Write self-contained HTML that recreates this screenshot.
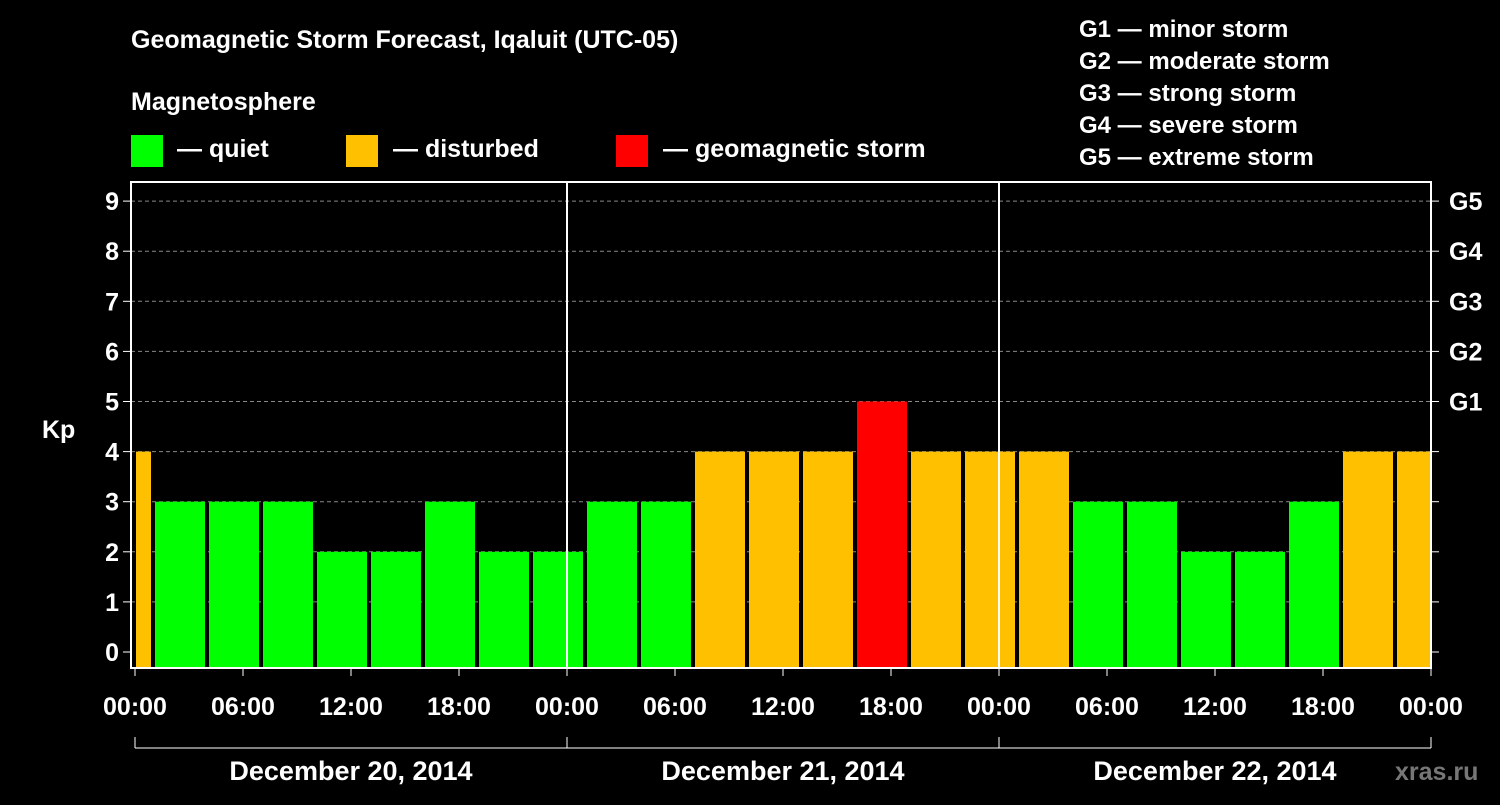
<!DOCTYPE html>
<html><head><meta charset="utf-8"><style>
body{margin:0;background:#000;width:1500px;height:800px;overflow:hidden;font-family:"Liberation Sans",sans-serif}
svg text{font-family:"Liberation Sans",sans-serif;font-weight:bold;fill:#fff}
</style></head><body>
<svg id="chart" width="1500" height="800" xmlns="http://www.w3.org/2000/svg">
<text x="131" y="48" font-size="25">Geomagnetic Storm Forecast, Iqaluit (UTC-05)</text>
<text x="131" y="110" font-size="25">Magnetosphere</text>
<rect x="131" y="135" width="32" height="32" fill="#00ff00"/>
<text x="177" y="157" font-size="25">— quiet</text>
<rect x="346" y="135" width="32" height="32" fill="#ffc000"/>
<text x="393" y="157" font-size="25">— disturbed</text>
<rect x="616" y="135" width="32" height="32" fill="#ff0000"/>
<text x="663" y="157" font-size="25">— geomagnetic storm</text>
<g font-size="24">
<text x="1079" y="37">G1 — minor storm</text>
<text x="1079" y="69">G2 — moderate storm</text>
<text x="1079" y="101">G3 — strong storm</text>
<text x="1079" y="133">G4 — severe storm</text>
<text x="1079" y="165">G5 — extreme storm</text>
</g>
<text x="42" y="438" font-size="25">Kp</text>
<text x="1395" y="780" font-size="25" fill="#666" style="fill:#777">xras.ru</text>
<g id="grid"></g><g id="bars"></g><g id="axes"></g>
</svg>
<script>
const kpValues=[4,3,3,3,2,2,3,2,2,3,3,4,4,4,5,4,4,4,3,3,2,2,3,4,4];
const barStartHours=[-2,1,4,7,10,13,16,19,22,25,28,31,34,37,40,43,46,49,52,55,58,61,64,67,70];
const yTicks=[0,1,2,3,4,5,6,7,8,9];
const gLabels=["G1","G2","G3","G4","G5"];
const xTickLabels=["00:00","06:00","12:00","18:00","00:00","06:00","12:00","18:00","00:00","06:00","12:00","18:00","00:00"];
const dayLabels=["December 20, 2014","December 21, 2014","December 22, 2014"];
const NS="http://www.w3.org/2000/svg";
const X0=135,PX_H=18,Y0=652,PX_K=50.1,TOP=182,BOT=668,LEFT=131,RIGHT=1431;
const xs=h=>X0+h*PX_H, ys=k=>Y0-k*PX_K;
function mk(t,a,p){const e=document.createElementNS(NS,t);for(const k in a)e.setAttribute(k,a[k]);p.appendChild(e);return e;}
const grid=document.getElementById('grid'),bars=document.getElementById('bars'),axes=document.getElementById('axes');
yTicks.forEach(k=>{if(k>0){const l=mk('line',{x1:LEFT,x2:RIGHT,y1:ys(k),y2:ys(k),stroke:'#888','stroke-dasharray':'4,3','stroke-width':1},grid);

}});
kpValues.forEach((v,i)=>{let x1=xs(barStartHours[i])+2,x2=xs(barStartHours[i]+3)-2;x1=Math.max(x1,X0+1);x2=Math.min(x2,RIGHT);
const c=v>=5?'#ff0000':v>=4?'#ffc000':'#00ff00';
const r=mk('rect',{x:x1,y:ys(v),width:x2-x1,height:BOT-ys(v),fill:c},bars);

});
const f=mk('rect',{x:LEFT,y:TOP,width:RIGHT-LEFT,height:BOT-TOP,fill:'none',stroke:'#fff','stroke-width':2},axes);


[24,48].forEach(h=>{const l=mk('line',{x1:xs(h),x2:xs(h),y1:TOP,y2:BOT,stroke:'#fff','stroke-width':2},axes);

});
yTicks.forEach(k=>{mk('line',{x1:LEFT-8,x2:LEFT,y1:ys(k),y2:ys(k),stroke:'#fff','stroke-width':1},axes);
mk('line',{x1:RIGHT,x2:RIGHT+8,y1:ys(k),y2:ys(k),stroke:'#fff','stroke-width':1},axes);
const t=mk('text',{x:LEFT-12,y:ys(k)+9,'font-size':25,'text-anchor':'end'},axes);t.textContent=k;

});
gLabels.forEach((g,i)=>{const t=mk('text',{x:RIGHT+18,y:ys(5+i)+9,'font-size':25},axes);t.textContent=g;

});
xTickLabels.forEach((s,i)=>{const x=xs(i*6);mk('line',{x1:x,x2:x,y1:BOT,y2:BOT+8,stroke:'#fff','stroke-width':1},axes);
const t=mk('text',{x:x,y:715,'font-size':25,'text-anchor':'middle'},axes);t.textContent=s;

});
mk('line',{x1:xs(0),x2:xs(72),y1:748,y2:748,stroke:'#fff','stroke-width':1},axes);
[0,24,48,72].forEach(h=>mk('line',{x1:xs(h),x2:xs(h),y1:737,y2:748,stroke:'#fff','stroke-width':1},axes));
dayLabels.forEach((d,i)=>{const t=mk('text',{x:xs(i*24+12),y:780,'font-size':27,'text-anchor':'middle'},axes);t.textContent=d;

});
</script>
</body></html>
